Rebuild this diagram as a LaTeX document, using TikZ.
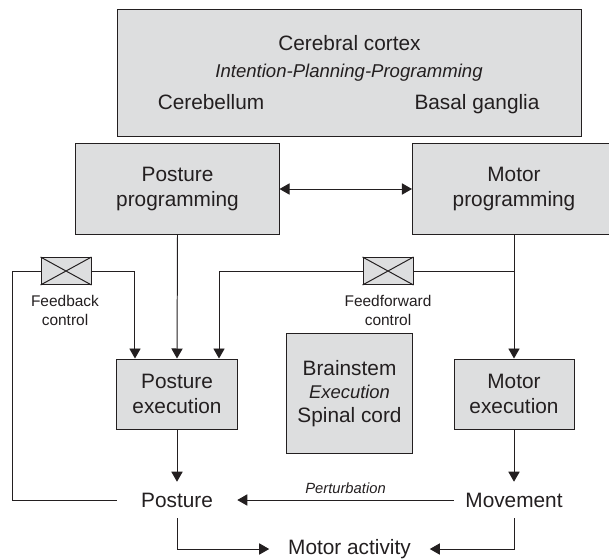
\documentclass[tikz,border=0pt]{standalone}
\usepackage{fontspec}
\setmainfont{Liberation Sans}
\usetikzlibrary{arrows.meta}

\definecolor{boxgray}{RGB}{221,222,223}
\definecolor{ink}{RGB}{35,31,32}

\tikzset{
  box/.style={draw=ink, fill=boxgray, line width=0.7pt, inner sep=0pt, align=center, text=ink,
    font=\fontsize{14.8}{17.8}\selectfont},
  plain/.style={inner sep=0pt, align=center, text=ink, font=\fontsize{14.8}{17.8}\selectfont},
  small/.style={inner sep=0pt, align=center, text=ink, font=\fontsize{11}{13.5}\selectfont},
  valve/.style={draw=ink, fill=boxgray, line width=0.7pt, inner sep=0pt,
    minimum width=1.25cm, minimum height=0.675cm},
  link/.style={draw=ink, line width=0.7pt},
  arr/.style={link, -{Triangle[length=0.25cm,width=0.28cm]}},
  darr/.style={link, {Triangle[length=0.25cm,width=0.28cm]}-{Triangle[length=0.25cm,width=0.28cm]}}
}

\begin{document}
\begin{tikzpicture}[x=0.025cm, y=-0.025cm]
    \useasboundingbox (0,0) rectangle (609,558);

    \node (cortex) at (349.5,73) [box, minimum width=11.575cm, minimum height=3.15cm] {};
    \node (cerebral) at (349.5,43) [plain] {Cerebral cortex};
    \node (plan) at (349,73) [plain, font=\fontsize{13.2}{16}\selectfont\itshape] {Intention-Planning-Programming};
    \node (cereb) at (211,109.5) [plain, anchor=base] {Cerebellum};
    \node (basal) at (477,109.5) [plain, anchor=base] {Basal ganglia};

    \node (postprog) at (177.5,189) [box, minimum width=5.075cm, minimum height=2.25cm] {Posture\\programming};
    \node (motprog) at (514,189) [box, minimum width=5.075cm, minimum height=2.25cm] {Motor\\programming};

    \node (fbbox) at (66,271) [valve] {};
    \node (ffbox) at (388,271) [valve] {};
    \node (fblabel) at (65,310) [small] {Feedback\\control};
    \node (fflabel) at (388,310) [small] {Feedforward\\control};

    \node (postexec) at (177,394) [box, minimum width=3cm, minimum height=1.75cm] {Posture\\execution};
    \node (motexec) at (514,394) [box, minimum width=3cm, minimum height=1.75cm] {Motor\\execution};
    \node (brainstem) at (349.5,393.5) [box, minimum width=3.125cm, minimum height=2.975cm,
        font=\fontsize{14.8}{16.7}\selectfont] {Brainstem\\{\fontsize{13.1}{16.7}\selectfont\itshape Execution}\\Spinal cord};

    \node (posture) at (177,500) [plain, minimum width=3cm, minimum height=0.9cm] {Posture};
    \node (movement) at (514,500) [plain, minimum width=3cm, minimum height=0.9cm] {Movement};
    \node (motact) at (349.5,549) [plain, minimum width=4cm] {Motor activity};

    \coordinate (ffsplit) at (514,271);
    \coordinate (fbcorner) at (12,271);

    \draw [darr] (postprog) -- (motprog);
    \draw [arr] (postprog.south) -- (postexec.north);
    \draw [arr] (motprog.south) -- (motexec.north);

    \draw [link] (ffsplit) -- (ffbox.east);
    \draw [arr] (ffbox.west) -| ([xshift=1.05cm]postexec.north);
    \draw [link] (posture.west) -| (fbcorner) -- (fbbox.west);
    \draw [arr] (fbbox.east) -| ([xshift=-1.05cm]postexec.north);
    \draw [link] (fbbox.north west) -- (fbbox.south east) (fbbox.south west) -- (fbbox.north east);
    \draw [link] (ffbox.north west) -- (ffbox.south east) (ffbox.south west) -- (ffbox.north east);

    \draw [arr] (postexec.south) -- (posture.north);
    \draw [arr] (motexec.south) -- (movement.north);
    \draw [arr] (movement.west) -- node (pertlabel) [midway, above=0.14cm, small, font=\fontsize{10.5}{12}\selectfont\itshape] {Perturbation} (posture.east);
    \draw [arr] (posture.south) |- (motact.west);
    \draw [arr] (movement.south) |- (motact.east);
\end{tikzpicture}
\end{document}
